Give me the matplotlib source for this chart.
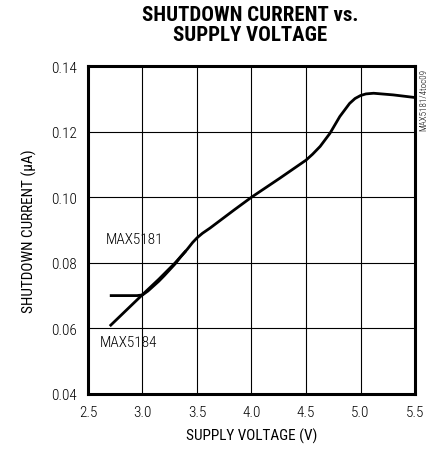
import matplotlib
matplotlib.use("Agg")
import matplotlib.pyplot as plt
from matplotlib import font_manager

names = {f.name for f in font_manager.fontManager.ttflist}


def pick(cands):
    for c in cands:
        if c in names:
            return c
    return "DejaVu Sans"


body_font = pick(["Liberation Sans Narrow", "Roboto Condensed", "Archivo Narrow", "Liberation Sans"])
title_font = pick(["Roboto Condensed", "Archivo Narrow", "Barlow Condensed", "Liberation Sans"])
plt.rcParams["font.family"] = [body_font, "DejaVu Sans"]
plt.rcParams["font.weight"] = "light"

# MAX5184 curve (full sweep)
v_5184 = [2.7, 2.85, 3.0, 3.15, 3.3, 3.41, 3.46, 3.5, 3.55, 3.62, 3.68, 3.84, 4.0, 4.26, 4.5,
          4.56, 4.63, 4.72, 4.81, 4.9, 4.95, 5.0, 5.05, 5.12, 5.3, 5.5]
i_5184 = [0.0607, 0.0655, 0.0703, 0.0750, 0.0800, 0.0841, 0.0862, 0.0876, 0.0890, 0.0906,
          0.0921, 0.0961, 0.1000, 0.1058, 0.1113, 0.1131, 0.1155, 0.1195, 0.1246, 0.1286,
          0.1301, 0.1310, 0.1315, 0.1317, 0.1312, 0.1304]

# MAX5181 curve (only differs at the low end)
v_5181 = [2.7, 2.95, 3.0, 3.05, 3.1, 3.15, 3.2, 3.25, 3.3, 3.35, 3.4]
i_5181 = [0.0700, 0.0700, 0.0702, 0.0714, 0.0729, 0.0744, 0.0761, 0.0779, 0.0797, 0.0818, 0.0837]

xticks = [2.5, 3.0, 3.5, 4.0, 4.5, 5.0, 5.5]
yticks = [0.04, 0.06, 0.08, 0.10, 0.12, 0.14]

fig = plt.figure(figsize=(4.38, 4.56), dpi=100)
ax = fig.add_axes([0.2009, 0.1338, 0.7466, 0.7192])

ax.plot(v_5184, i_5184, color="black", lw=2.0, solid_joinstyle="round", solid_capstyle="butt")
ax.plot(v_5181, i_5181, color="black", lw=2.0, solid_joinstyle="round", solid_capstyle="butt")

ax.set_xlim(2.5, 5.5)
ax.set_ylim(0.04, 0.14)
ax.set_xticks(xticks)
ax.set_yticks(yticks)
ax.set_xticklabels([f"{t:.1f}" for t in xticks])
ax.set_yticklabels([f"{t:.2f}" for t in yticks])
ax.tick_params(length=0, labelsize=11, pad=8)
ax.grid(True, color="black", lw=0.8)
for s in ax.spines.values():
    s.set_linewidth(2.2)

ax.text(2.66, 0.0873, "MAX5181", fontsize=11, va="center", ha="left")
ax.text(2.61, 0.0557, "MAX5184", fontsize=11, va="center", ha="left")

ax.set_xlabel("SUPPLY VOLTAGE (V)", fontsize=11, labelpad=6)
ax.set_ylabel("SHUTDOWN CURRENT (\u00b5A)", fontsize=11, labelpad=10)

fig.text(0.572, 0.987, "SHUTDOWN CURRENT vs.\nSUPPLY VOLTAGE", ha="center", va="top",
         fontsize=15, fontweight="heavy", family=[title_font, "DejaVu Sans"], linespacing=1.05)
fig.text(0.968, 0.848, "MAX5181/4toc09", rotation=90, ha="center", va="top", fontsize=6.5)

fig.savefig("out.png", dpi=100)
